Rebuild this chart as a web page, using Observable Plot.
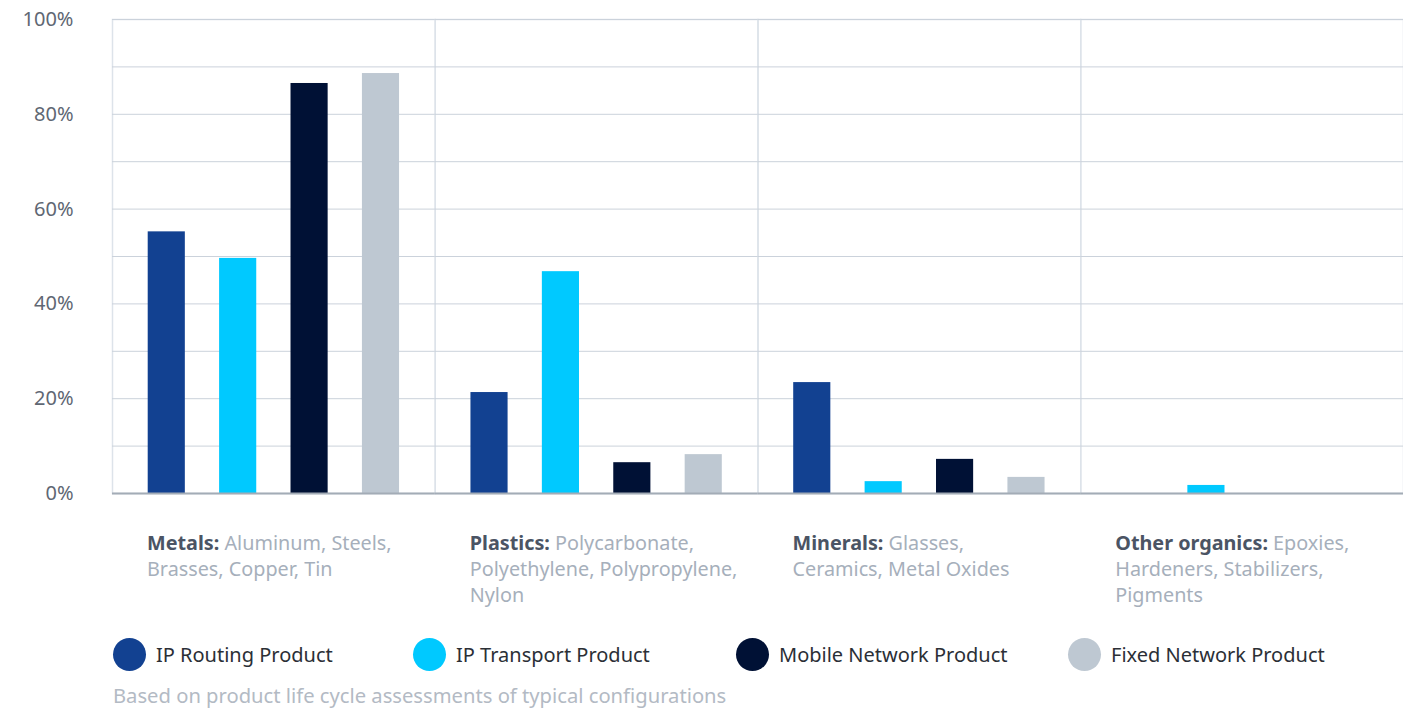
<!DOCTYPE html>
<html>
<head>
<meta charset="utf-8">
<script src="https://cdn.jsdelivr.net/npm/d3@7"></script>
<script src="https://cdn.jsdelivr.net/npm/@observablehq/plot@0.6"></script>
<style>
  body { margin: 0; background: #fff; font-family: "Noto Sans", sans-serif; }
  #wrap { position: relative; width: 1403px; height: 708px; }
  #legend { position: absolute; top: 636px; left: 0; width: 1403px; height: 36px; }
  .item { position: absolute; top: 0; display: flex; align-items: center; height: 36px; }
  .dot { width: 33px; height: 33px; border-radius: 50%; margin-right: 10px; }
  .lab { font-size: 20px; color: #2b2f36; white-space: nowrap; }
  #caption { position: absolute; top: 681px; left: 113px; font-size: 20.2px; color: #b3bac4; white-space: nowrap; }
</style>
</head>
<body>
<div id="wrap">
  <div id="chart"></div>
  <div id="legend"></div>
  <div id="caption"></div>
</div>
<script>
const categories = ["Metals", "Plastics", "Minerals", "Other organics"];
const categoryDetails = [
  "Aluminum, Steels,\nBrasses, Copper, Tin",
  "Polycarbonate,\nPolyethylene, Polypropylene,\nNylon",
  "Glasses,\nCeramics, Metal Oxides",
  "Epoxies,\nHardeners, Stabilizers,\nPigments"
];
const series = ["IP Routing Product", "IP Transport Product", "Mobile Network Product", "Fixed Network Product"];
const ipRouting   = [55.2, 21.3, 23.4, 0];
const ipTransport = [49.6, 46.8, 2.5, 1.7];
const mobileNet   = [86.5, 6.5, 7.2, 0];
const fixedNet    = [88.6, 8.2, 3.4, 0];
const seriesColors = ["#124191", "#00c9ff", "#001135", "#bec8d2"];
const yTicks = [0, 20, 40, 60, 80, 100];
const gridValues = [0, 10, 20, 30, 40, 50, 60, 70, 80, 90, 100];
const captionText = "Based on product life cycle assessments of typical configurations";

const valuesBySeries = [ipRouting, ipTransport, mobileNet, fixedNet];
const data = [];
categories.forEach((c, i) => {
  series.forEach((s, j) => data.push({category: c, series: s, value: valuesBySeries[j][i]}));
});
const labelRows = categories.map((c, i) => ({category: c, label: c + ": " + categoryDetails[i]}));

const svg = Plot.plot({
  width: 1403,
  height: 620,
  marginLeft: 112,
  marginRight: 0,
  marginTop: 19,
  marginBottom: 127,
  style: {fontFamily: "Noto Sans, sans-serif", fontSize: "20px", color: "#5f6773", background: "#fff"},
  fx: {domain: categories, padding: 0, round: false, axis: null},
  x: {domain: series, paddingInner: 0.48, paddingOuter: 0.5, round: false, axis: null},
  y: {domain: [0, 100], ticks: yTicks, tickFormat: d => d + "%", tickSize: 0, tickPadding: 39, label: null},
  color: {domain: series, range: seriesColors},
  marks: [
    Plot.frame({stroke: "#dde3ea", strokeWidth: 1.5}),
    Plot.ruleY(gridValues, {stroke: "#cbd2db", strokeWidth: 1}),
    Plot.barY(data, {fx: "category", x: "series", y: "value", fill: "series"}),
    Plot.ruleY([0], {stroke: "#a3acb6", strokeWidth: 2}),
    Plot.text(labelRows, {
      fx: "category", text: "label", frameAnchor: "bottom-left", dx: 34.5, dy: 38.5,
      textAnchor: "start", lineAnchor: "top", lineHeight: 1.31, fontSize: 19.8,
      fill: "#a6afbb"
    })
  ]
});

// bold category prefix
const SVGNS = "http://www.w3.org/2000/svg";
svg.querySelectorAll("text").forEach(t => {
  const candidates = [t, ...t.querySelectorAll("tspan")];
  for (const el of candidates) {
    for (const n of Array.from(el.childNodes)) {
      if (n.nodeType !== 3) continue;
      const s = n.textContent;
      const cat = categories.find(c => s.startsWith(c + ":"));
      if (!cat) continue;
      const b = document.createElementNS(SVGNS, "tspan");
      b.setAttribute("font-weight", "bold");
      b.setAttribute("fill", "#4b5464");
      b.textContent = cat + ":";
      el.insertBefore(b, n);
      n.textContent = s.slice(cat.length + 1);
      return;
    }
  }
});

document.getElementById("chart").appendChild(svg);

const legendLefts = [113, 413, 736, 1068];
const legend = document.getElementById("legend");
series.forEach((s, i) => {
  const it = document.createElement("div");
  it.className = "item";
  it.style.left = legendLefts[i] + "px";
  const d = document.createElement("div");
  d.className = "dot";
  d.style.background = seriesColors[i];
  const l = document.createElement("span");
  l.className = "lab";
  l.textContent = s;
  it.appendChild(d); it.appendChild(l);
  legend.appendChild(it);
});
document.getElementById("caption").textContent = captionText;
</script>
</body>
</html>
